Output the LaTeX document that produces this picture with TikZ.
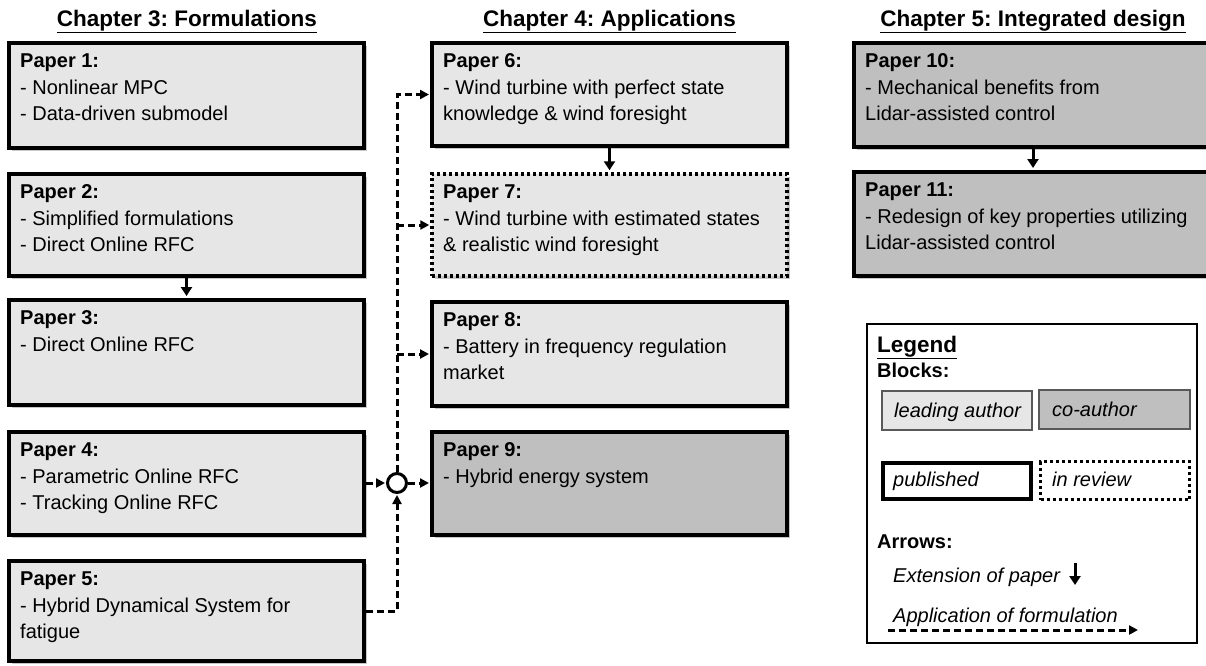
\documentclass[tikz,border=0pt]{standalone}
\usepackage{fontspec}
\setmainfont{Liberation Sans}
\usetikzlibrary{arrows.meta,shadows}
\frenchspacing

\definecolor{leadfill}{HTML}{E6E6E6}
\definecolor{cofill}{HTML}{BFBFBF}

\tikzset{
  x=1pt, y=-1pt,
  paperbox/.style={draw=black, line width=4pt, fill=leadfill, inner sep=0pt,
    drop shadow={shadow xshift=3pt, shadow yshift=-3pt, fill=black, opacity=0.22}},
  coauthor/.style={fill=cofill},
  inreview/.style={dash pattern=on 3pt off 3pt, line width=3.5pt},
  txt/.style={inner sep=0pt, align=left, font=\fontsize{20}{26.7}\selectfont},
  chapter/.style={inner sep=0pt, font=\fontsize{22.5}{27}\selectfont\bfseries},
  ext/.style={line width=3pt, -{Triangle[length=9pt,width=11pt]}, shorten >=2pt},
  appl/.style={line width=3pt, dash pattern=on 7pt off 4pt,
    -{Triangle[length=9pt,width=9pt]}, shorten >=1pt},
  legendbox/.style={inner sep=0pt},
}

% a paper block given by its outer left, top, right and bottom edges
\newcommand\paper[6]{%
  \node[paperbox,#6, minimum width={#4-#2-4}, minimum height={#5-#3-4}]
    (#1) at ({(#2+#4)/2},{(#3+#5)/2}) {};}
% the text of a paper block, set from the block's top left corner
\newcommand\papertext[4]{%
  \node[txt, anchor=north west] (#1) at ({#2+13},{#3+12.4}) {#4};}

\begin{document}
\begin{tikzpicture}
\useasboundingbox (0,0) rectangle (1206,665);
\clip (0,0) rectangle (1206,665);

% chapter headings
\node[chapter, anchor=base] (ch3) at (187,26) {\underline{Chapter 3: Formulations}};
\node[chapter, anchor=base] (ch4) at (609.5,26) {\underline{Chapter 4: Applications}};
\node[chapter, anchor=base] (ch5) at (1033,26) {\underline{Chapter 5: Integrated design}};

% chapter 3
\paper{p1}{7}{41}{366}{150}{}
\paper{p2}{7}{172}{366}{278}{}
\paper{p3}{7}{298}{366}{407}{}
\paper{p4}{7}{430}{366}{537}{}
\paper{p5}{7}{559}{366}{663}{}
\papertext{t1}{7}{41}{\textbf{Paper 1:}\\- Nonlinear MPC\\- Data-driven submodel}
\papertext{t2}{7}{172}{\textbf{Paper 2:}\\- Simplified formulations\\- Direct Online RFC}
\papertext{t3}{7}{298}{\textbf{Paper 3:}\\- Direct Online RFC}
\papertext{t4}{7}{430}{\textbf{Paper 4:}\\- Parametric Online RFC\\- Tracking Online RFC}
\papertext{t5}{7}{559}{\textbf{Paper 5:}\\- Hybrid Dynamical System for\\fatigue}

% chapter 4
\paper{p6}{430}{41}{789}{148}{}
\paper{p7}{430}{172}{789}{278}{inreview}
\paper{p8}{430}{300}{789}{408}{}
\paper{p9}{430}{430}{789}{537}{coauthor}
\papertext{t6}{430}{41}{\textbf{Paper 6:}\\- Wind turbine with perfect state\\knowledge \& wind foresight}
\papertext{t7}{430}{172}{\textbf{Paper 7:}\\- Wind turbine with estimated states\\\& realistic wind foresight}
\papertext{t8}{430}{300}{\textbf{Paper 8:}\\- Battery in frequency regulation\\market}
\papertext{t9}{430}{430}{\textbf{Paper 9:}\\- Hybrid energy system}

% chapter 5
\paper{p10}{852}{41}{1214}{149}{coauthor}
\paper{p11}{852}{170}{1214}{278}{coauthor}
\papertext{t10}{852}{41}{\textbf{Paper 10:}\\- Mechanical benefits from\\Lidar-assisted control}
\papertext{t11}{852}{170}{\textbf{Paper 11:}\\- Redesign of key properties utilizing\\Lidar-assisted control}

% extensions of papers
\draw[ext] (p2.south) -- (p3.north);
\draw[ext] (p6.south) -- (p7.north);
\draw[ext] (p10.south) -- (p11.north);

% applications of formulations
\node[circle, draw, line width=3pt, fill=white, minimum size=19pt, inner sep=0pt] (hub) at (397,483) {};
\draw[appl] (p4.east |- hub.west) -- (hub.west);
\draw[appl] (hub.east) -- (p9.west |- hub.east);
\draw[appl] (p5.east) -| (hub.south);
\draw[appl] (hub.north) |- (p6.west);
\draw[appl] (hub.north |- p7.west) -- (p7.west);
\draw[appl] (hub.north |- p8.west) -- (p8.west);

% legend
\draw[line width=1.3pt] (867,324) rectangle (1197,643);
\node[legendbox, anchor=base west, font=\fontsize{22.5}{27}\selectfont\bfseries] (lg) at (877,352) {\underline{Legend}};
\node[legendbox, anchor=base west, font=\fontsize{20}{24}\selectfont\bfseries] (lgb) at (877,377) {Blocks:};
\node[draw=black!65, line width=1.2pt, fill=leadfill, minimum width=150pt, minimum height=39pt, inner sep=0pt] (lglead) at (957,410.5) {};
\node[draw=black!65, line width=1.2pt, fill=cofill, minimum width=151pt, minimum height=39pt, inner sep=0pt] (lgco) at (1114.5,409.5) {};
\node[draw=black, line width=4pt, fill=white, minimum width=148pt, minimum height=36pt, inner sep=0pt] (lgpub) at (957,481) {};
\node[draw=black, dash pattern=on 3pt off 3pt, line width=3pt, fill=white, minimum width=149pt, minimum height=38pt, inner sep=0pt] (lgrev) at (1115,480.5) {};
\node[legendbox, anchor=base west, font=\fontsize{20}{24}\selectfont\itshape] (lgleadt) at (894,417) {leading author};
\node[legendbox, anchor=base west, font=\fontsize{20}{24}\selectfont\itshape] (lgcot) at (1052,416) {co-author};
\node[legendbox, anchor=base west, font=\fontsize{20}{24}\selectfont\itshape] (lgpubt) at (893,486) {published};
\node[legendbox, anchor=base west, font=\fontsize{20}{24}\selectfont\itshape] (lgrevt) at (1052,486) {in review};
\node[legendbox, anchor=base west, font=\fontsize{20}{24}\selectfont\bfseries] (lga) at (877,548) {Arrows:};
\node[legendbox, anchor=base west, font=\fontsize{20}{24}\selectfont\itshape] (lgext) at (893,582) {Extension of paper};
\coordinate (lgext1) at (1075,563);
\coordinate (lgext2) at (1075,585);
\draw[ext, shorten >=0pt] (lgext1) -- (lgext2);
\node[legendbox, anchor=base west, font=\fontsize{20}{24}\selectfont\itshape] (lgappl) at (893,622) {Application of formulation};
\coordinate (lgappl1) at (888,630);
\coordinate (lgappl2) at (1138,630);
\draw[appl, shorten >=0pt] (lgappl1) -- (lgappl2);
\end{tikzpicture}
\end{document}
